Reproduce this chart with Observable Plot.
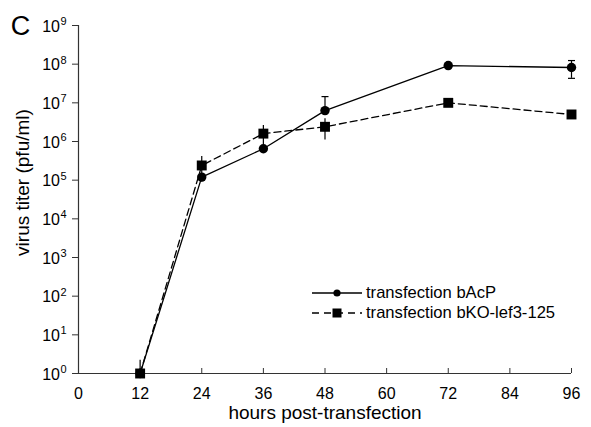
<!DOCTYPE html>
<html>
<head>
<meta charset="utf-8">
<script src="https://cdn.jsdelivr.net/npm/d3@7"></script>
<script src="https://cdn.jsdelivr.net/npm/@observablehq/plot@0.6"></script>
<style>
  body { margin: 0; background: white; }
  #wrap { position: relative; width: 591px; height: 427px; font-family: "Liberation Sans", Arial, sans-serif; }
  #legend { position: absolute; left: 312px; top: 283px; font-size: 16.6px; color: black; }
  #legend .row { display: flex; align-items: center; height: 20px; }
  #legend svg { margin-right: 4px; }
</style>
</head>
<body>
<div id="wrap"></div>
<script>
// ---- data ----
const hours = [12, 24, 36, 48, 72, 96];
const bAcP = [1, 1.2e5, 6.5e5, 6.3e6, 9.2e7, 8.2e7];
const bAcPLow = [null, null, null, 6.3e6, null, 4.3e7];
const bAcPHigh = [null, null, null, 1.45e7, null, 1.24e8];
const bKO = [1, 2.4e5, 1.6e6, 2.4e6, 1.0e7, 5.0e6];
const bKOLow = [1, 9e4, 8e5, 1.1e6, null, null];
const bKOHigh = [2.2, 4.1e5, 2.6e6, 3.9e6, null, null];
const xTicks = [0, 12, 24, 36, 48, 60, 72, 84, 96];
const yTicks = [1, 1e1, 1e2, 1e3, 1e4, 1e5, 1e6, 1e7, 1e8, 1e9];
const seriesNames = ["transfection bAcP", "transfection bKO-lef3-125"];
const panelLabel = "C";
const xLabel = "hours post-transfection";
const yLabel = "virus titer (pfu/ml)";

const sA = hours.map((h, i) => ({h, v: bAcP[i], lo: bAcPLow[i], hi: bAcPHigh[i]}));
const sB = hours.map((h, i) => ({h, v: bKO[i], lo: bKOLow[i], hi: bKOHigh[i]}));
const errA = sA.filter(d => d.hi != null);
const errB = sB.filter(d => d.hi != null);

const expOf = d => String(Math.round(Math.log10(d)));

const cap = {draw(ctx) { ctx.moveTo(-3.5, 0); ctx.lineTo(3.5, 0); }};

const chart = Plot.plot({
  width: 591,
  height: 427,
  marginLeft: 78,
  marginRight: 20,
  marginTop: 25,
  marginBottom: 54,
  style: {fontFamily: '"Liberation Sans", Arial, sans-serif', fontSize: "16px", color: "black", background: "white"},
  x: {domain: [0, 96]},
  y: {type: "log", domain: [1, 1e9]},
  marks: [
    Plot.ruleX([0], {stroke: "#333", strokeWidth: 1.2}),
    Plot.ruleY([1], {stroke: "#333", strokeWidth: 1.2}),
    Plot.axisY({ticks: yTicks, tickFormat: () => "", tickSize: 6, label: null, stroke: "#333"}),
    // y tick labels: base "10" and a raised exponent
    Plot.text(yTicks, {x: 0, y: d => d, text: () => "10", textAnchor: "end", dx: -18.5, dy: 1, fontSize: 16}),
    Plot.text(yTicks, {x: 0, y: d => d, text: expOf, textAnchor: "start", dx: -18, dy: -4, fontSize: 11}),
    Plot.axisX({ticks: xTicks, tickFormat: d => d, tickSize: -5, tickPadding: 19, label: null, stroke: "#333", fontSize: 16}),
    Plot.text([yLabel], {frameAnchor: "left", textAnchor: "middle", lineAnchor: "middle", rotate: -90, dx: -56, dy: -17, fontSize: 19}),
    Plot.text([xLabel], {frameAnchor: "bottom", textAnchor: "middle", lineAnchor: "middle", dy: 39, fontSize: 19}),
    Plot.text([panelLabel], {frameAnchor: "top-left", textAnchor: "middle", lineAnchor: "middle", dx: -58, dy: 1, fontSize: 27}),
    Plot.ruleX(errB, {x: "h", y1: "lo", y2: "hi", stroke: "black", strokeWidth: 1.2}),
    Plot.ruleX(errA, {x: "h", y1: "lo", y2: "hi", stroke: "black", strokeWidth: 1.2}),
    Plot.dot(errA, {x: "h", y: "hi", symbol: cap, fill: "none", stroke: "black", strokeWidth: 1.2}),
    Plot.dot(errA.filter(d => d.lo !== d.v), {x: "h", y: "lo", symbol: cap, fill: "none", stroke: "black", strokeWidth: 1.2}),
    Plot.line(sB, {x: "h", y: "v", stroke: "black", strokeWidth: 1.3, strokeDasharray: "7,4"}),
    Plot.line(sA, {x: "h", y: "v", stroke: "black", strokeWidth: 1.3}),
    Plot.dot(sB, {x: "h", y: "v", symbol: "square", r: 5.6, fill: "black", stroke: "none"}),
    Plot.dot(sA, {x: "h", y: "v", symbol: "circle", r: 4.7, fill: "black", stroke: "none"})
  ]
});

const wrap = document.getElementById("wrap");
wrap.appendChild(chart);

const legend = document.createElement("div");
legend.id = "legend";
const swatches = [
  `<svg width="50" height="14"><line x1="0" y1="7" x2="50" y2="7" stroke="black" stroke-width="1.3"/><circle cx="25" cy="7" r="3.6" fill="black"/></svg>`,
  `<svg width="50" height="14"><line x1="0" y1="7" x2="50" y2="7" stroke="black" stroke-width="1.3" stroke-dasharray="7,5"/><rect x="20.5" y="2.5" width="9" height="9" fill="black"/></svg>`
];
seriesNames.forEach((name, i) => {
  const row = document.createElement("div");
  row.className = "row";
  row.innerHTML = swatches[i] + `<span>${name}</span>`;
  legend.appendChild(row);
});
wrap.appendChild(legend);
</script>
</body>
</html>
